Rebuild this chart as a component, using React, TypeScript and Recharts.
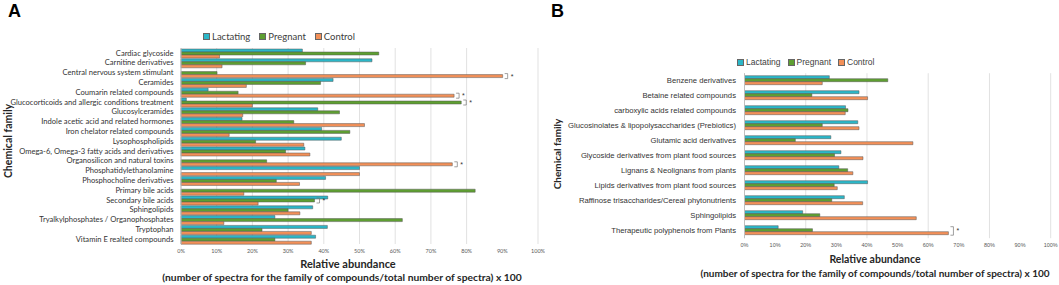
import { BarChart, Bar, XAxis, YAxis, CartesianGrid, LabelList } from "recharts";

// ----- Data: panel A -----
const categoriesA = [
  "Cardiac glycoside",
  "Carnitine derivatives",
  "Central nervous system stimulant",
  "Ceramides",
  "Coumarin related compounds",
  "Glucocorticoids and allergic conditions treatment",
  "Glucosylceramides",
  "Indole acetic acid and related hormones",
  "Iron chelator related compounds ",
  "Lysophospholipids",
  "Omega-6, Omega-3 fatty acids and derivatives",
  "Organosilicon and natural toxins",
  "Phosphatidylethanolamine",
  "Phosphocholine derivatives",
  "Primary bile acids",
  "Secondary bile acids",
  "Sphingolipids",
  "Tryalkylphosphates / Organophosphates",
  "Tryptophan ",
  "Vitamin E realted compounds",
];
const lactatingA = [34, 53.5, 0, 42.6, 7.6, 1.5, 38.3, 17.1, 39.4, 44.9, 34.7, 0, 50, 40.5, 0, 41.1, 36.9, 26.3, 41, 37.7];
const pregnantA = [55.4, 34.9, 10.1, 39.1, 16, 78.5, 44.4, 31.6, 47.3, 20.9, 29.3, 24, 0, 26.7, 82.4, 37.4, 30, 62, 22.7, 26.3];
const controlA = [10.8, 11.5, 90.1, 18.3, 76.5, 20, 17.3, 51.4, 13.5, 34.4, 36.1, 76, 50, 33.2, 17.6, 21.6, 33.3, 12, 36.5, 36.5];
// which series carries the significance mark (* ) in each row
const sigA = ["", "", "control", "", "control", "pregnant", "", "", "", "", "", "control", "", "", "pregnant", "", "", "", "", ""];

// ----- Data: panel B -----
const categoriesB = [
  "Benzene derivatives",
  "Betaine related compounds",
  "carboxylic acids related compounds",
  "Glucosinolates & lipopolysaccharides (Prebiotics)",
  "Glutamic acid derivatives",
  "Glycoside derivatives from plant food sources",
  "Lignans & Neolignans from plants",
  "Lipids derivatives from plant food sources",
  "Raffinose trisaccharides/Cereal phytonutrients",
  "Sphingolipids",
  "Therapeutic polyphenols from Plants",
];
const lactatingB = [27.7, 37.4, 33, 37, 28.2, 31.5, 30.8, 40.2, 32.6, 19, 11];
const pregnantB = [46.8, 22, 33.8, 25.4, 16.6, 29.4, 33.7, 29.3, 28.5, 24.6, 22.2];
const controlB = [25.4, 40.2, 32.9, 37.4, 55, 38.7, 35.4, 30.3, 38.6, 56.1, 66.6];
const sigB = ["", "", "", "", "", "", "", "", "", "", "control"];

const percentTicks = [0, 10, 20, 30, 40, 50, 60, 70, 80, 90, 100];

// ----- Styling -----
const COLORS = { lactating: "#2bb7c8", pregnant: "#5e9f31", control: "#f39058" };
const SERIES = [
  { key: "lactating", name: "Lactating" },
  { key: "pregnant", name: "Pregnant" },
  { key: "control", name: "Control" },
] as const;

function buildRows(cats: string[], l: number[], p: number[], c: number[]) {
  return cats.map((name, i) => ({ name, lactating: l[i], pregnant: p[i], control: c[i] }));
}
const dataA = buildRows(categoriesA, lactatingA, pregnantA, controlA);
const dataB = buildRows(categoriesB, lactatingB, pregnantB, controlB);

// single-line category label (no wrapping)
function makeCategoryTick(font: string, size: number) {
  return (props: any) => {
    const { x, y, payload } = props;
    return (
      <text x={x} y={y} dy="0.35em" textAnchor="end" fontSize={size} fontFamily={font} fill="#333333">
        {payload.value}
      </text>
    );
  };
}

// small "]" bracket + asterisk after a marked bar
function makeSigMark(sig: string[], seriesKey: string, up: number, down: number) {
  return (props: any) => {
    const { x, y, width, height, index } = props;
    if (sig[index] !== seriesKey) return null;
    const x0 = Number(x) + Number(width) + 2;
    const y0 = Number(y) - up;
    const y1 = Number(y) + Number(height) + down;
    return (
      <g>
        <path d={`M${x0},${y0} H${x0 + 3} V${y1} H${x0}`} fill="none" stroke="#777" strokeWidth={0.7} />
        <text x={x0 + 6} y={(y0 + y1) / 2 + 2.5} fontSize={7} fill="#333" fontFamily="Liberation Sans">
          *
        </text>
      </g>
    );
  };
}

function LegendRow({ font, size, gap }: { font: string; size: number; gap: number }) {
  return (
    <div style={{ display: "flex", gap, fontFamily: font, fontSize: size, color: "#404040", alignItems: "center" }}>
      {SERIES.map((s) => (
        <div key={s.key} style={{ display: "flex", alignItems: "center" }}>
          <span
            style={{
              display: "inline-block",
              width: 5,
              height: 5,
              background: COLORS[s.key],
              border: "0.5px solid #666",
              marginRight: 2,
            }}
          />
          {s.name}
        </div>
      ))}
    </div>
  );
}

const abs = (s: React.CSSProperties): React.CSSProperties => ({ position: "absolute", whiteSpace: "nowrap", ...s });

export default function App() {
  return (
    <div style={{ position: "absolute", left: 0, top: 0, width: 1059, height: 285, background: "#fff", overflow: "hidden" }}>
      {/* ---- Panel A ---- */}
      <div style={abs({ left: 0, top: 0 })}>
        <BarChart
          width={545}
          height={285}
          layout="vertical"
          data={dataA}
          margin={{ top: 48, right: 7, bottom: 21, left: 0 }}
          barCategoryGap={1}
          barGap={0}
        >
          <CartesianGrid horizontal={false} stroke="#d9d9d9" strokeWidth={0.8} />
          <XAxis
            type="number"
            domain={[0, 100]}
            ticks={percentTicks}
            tickFormatter={(v) => `${v}%`}
            axisLine={false}
            tickLine={false}
            tickSize={3}
            tickMargin={2}
            height={20}
            tick={{ fill: "#595959", fontSize: 5.5, fontFamily: "Lato" }}
          />
          <YAxis
            type="category"
            dataKey="name"
            width={181}
            interval={0}
            tickLine={false}
            axisLine={{ stroke: "#bfbfbf" }}
            tickSize={6}
            tickMargin={1.5}
            tick={makeCategoryTick("Lato", 7.6)}
          />
          {SERIES.map((s) => (
            <Bar
              key={s.key}
              dataKey={s.key}
              name={s.name}
              fill={COLORS[s.key]}
              stroke="#555"
              strokeWidth={0.5}
              isAnimationActive={false}
            >
              <LabelList dataKey={s.key} content={makeSigMark(sigA, s.key, 1, 1)} />
            </Bar>
          ))}
        </BarChart>
      </div>

      {/* ---- Panel B ---- */}
      <div style={abs({ left: 540, top: 0 })}>
        <BarChart
          width={519}
          height={285}
          layout="vertical"
          data={dataB}
          margin={{ top: 73.2, right: 8.3, bottom: 26.8, left: 0 }}
          barCategoryGap={2.5}
          barGap={0}
        >
          <CartesianGrid horizontal={false} stroke="#d9d9d9" strokeWidth={0.8} />
          <XAxis
            type="number"
            domain={[0, 100]}
            ticks={percentTicks}
            tickFormatter={(v) => `${v}%`}
            axisLine={false}
            tickLine={false}
            tickSize={3}
            tickMargin={2}
            height={20}
            tick={{ fill: "#595959", fontSize: 5.5, fontFamily: "Liberation Sans" }}
          />
          <YAxis
            type="category"
            dataKey="name"
            width={204.5}
            interval={0}
            tickLine={false}
            axisLine={{ stroke: "#bfbfbf" }}
            tickSize={6}
            tickMargin={2.5}
            tick={makeCategoryTick("Liberation Sans", 7.7)}
          />
          {SERIES.map((s) => (
            <Bar
              key={s.key}
              dataKey={s.key}
              name={s.name}
              fill={COLORS[s.key]}
              stroke="#555"
              strokeWidth={0.5}
              isAnimationActive={false}
            >
              <LabelList dataKey={s.key} content={makeSigMark(sigB, s.key, 5, 0.5)} />
            </Bar>
          ))}
        </BarChart>
      </div>

      {/* ---- Legends ---- */}
      <div style={abs({ left: 203, top: 31 })}>
        <LegendRow font="Lato" size={9.5} gap={9} />
      </div>
      <div style={abs({ left: 737, top: 57 })}>
        <LegendRow font="Liberation Sans" size={8.5} gap={7} />
      </div>

      {/* ---- Panel letters ---- */}
      <div style={abs({ left: 8, top: 1, fontFamily: "Liberation Sans", fontWeight: 700, fontSize: 18 })}>A</div>
      <div style={abs({ left: 551, top: 1, fontFamily: "Liberation Sans", fontWeight: 700, fontSize: 18 })}>B</div>

      {/* ---- Axis titles ---- */}
      <div style={abs({ left: 7.5, top: 141, transform: "translate(-50%,-50%) rotate(-90deg)", fontFamily: "Lato", fontWeight: 700, fontSize: 10.5, color: "#262626" })}>
        Chemical family
      </div>
      <div style={abs({ left: 557, top: 154, transform: "translate(-50%,-50%) rotate(-90deg)", fontFamily: "Lato", fontWeight: 700, fontSize: 10, color: "#262626" })}>
        Chemical family
      </div>
      <div style={abs({ left: 348, top: 263, transform: "translate(-50%,-50%)", fontFamily: "Lato", fontWeight: 700, fontSize: 11, color: "#262626" })}>
        Relative abundance
      </div>
      <div style={abs({ left: 342, top: 277, transform: "translate(-50%,-50%)", fontFamily: "Lato", fontWeight: 700, fontSize: 10.3, color: "#262626" })}>
        (number of spectra for the family of compounds/total number of spectra) x 100
      </div>
      <div style={abs({ left: 875, top: 259, transform: "translate(-50%,-50%)", fontFamily: "Lato", fontWeight: 700, fontSize: 10.5, color: "#262626" })}>
        Relative abundance
      </div>
      <div style={abs({ left: 875, top: 273, transform: "translate(-50%,-50%)", fontFamily: "Lato", fontWeight: 700, fontSize: 10, color: "#262626" })}>
        (number of spectra for the family of compounds/total number of spectra) x 100
      </div>
    </div>
  );
}
